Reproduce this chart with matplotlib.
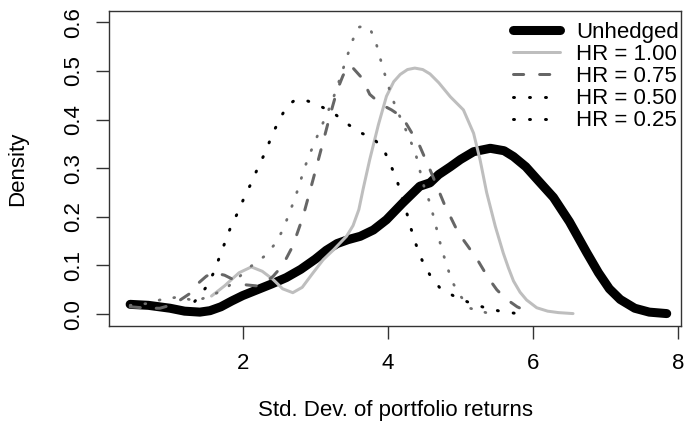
import matplotlib
matplotlib.use("Agg")
import matplotlib.pyplot as plt
from matplotlib.lines import Line2D

plt.rcParams["font.family"] = ["Liberation Sans", "DejaVu Sans"]

# density curves (x = std. dev., y = density)
unhedged_x = [0.45, 0.7, 1.0, 1.2, 1.41, 1.55, 1.7, 1.85, 2.0, 2.2, 2.4, 2.6, 2.8, 3.0, 3.15,
              3.3, 3.45, 3.62, 3.8, 3.98, 4.2, 4.44, 4.58, 4.7, 4.86, 5.0, 5.18, 5.41, 5.6, 5.73,
              5.9, 6.05, 6.28, 6.5, 6.65, 6.74, 6.9, 7.05, 7.2, 7.4, 7.6, 7.84]
unhedged_y = [0.020, 0.018, 0.012, 0.006, 0.004, 0.007, 0.015, 0.027, 0.038, 0.050, 0.062,
              0.075, 0.092, 0.113, 0.131, 0.145, 0.153, 0.160, 0.173, 0.194, 0.228, 0.263, 0.270,
              0.287, 0.303, 0.318, 0.334, 0.341, 0.336, 0.324, 0.303, 0.278, 0.240, 0.190, 0.150,
              0.126, 0.085, 0.052, 0.030, 0.012, 0.004, 0.001]

hr100_x = [1.57, 1.75, 1.95, 2.12, 2.27, 2.42, 2.55, 2.69, 2.82, 2.97, 3.11, 3.25, 3.43, 3.52,
           3.6, 3.66, 3.75, 3.87, 3.98, 4.08, 4.17, 4.27, 4.37, 4.48, 4.58, 4.7, 4.86, 5.04,
           5.18, 5.27, 5.36, 5.48, 5.59, 5.66, 5.73, 5.82, 5.91, 6.05, 6.2, 6.35, 6.55]
hr100_y = [0.037, 0.058, 0.085, 0.097, 0.088, 0.071, 0.052, 0.044, 0.055, 0.085, 0.112, 0.132,
           0.160, 0.182, 0.215, 0.258, 0.318, 0.390, 0.448, 0.478, 0.493, 0.503, 0.506, 0.503,
           0.494, 0.476, 0.447, 0.420, 0.372, 0.317, 0.250, 0.180, 0.125, 0.095, 0.068, 0.045,
           0.029, 0.013, 0.006, 0.003, 0.001]

hr075_x = [0.45, 0.7, 0.86, 1.0, 1.1, 1.2, 1.3, 1.4, 1.5, 1.6, 1.75, 1.87, 2.05, 2.19, 2.3, 2.42,
           2.55, 2.69, 2.83, 2.97, 3.1, 3.2, 3.3, 3.38, 3.45, 3.52, 3.64, 3.75, 3.91, 4.05, 4.2,
           4.3, 4.44, 4.6, 4.78, 4.97, 5.1, 5.24, 5.38, 5.5, 5.62, 5.78, 5.91]
hr075_y = [0.015, 0.012, 0.012, 0.018, 0.025, 0.035, 0.045, 0.065, 0.078, 0.085, 0.080, 0.071,
           0.060, 0.058, 0.063, 0.078, 0.100, 0.140, 0.200, 0.277, 0.350, 0.407, 0.460, 0.490,
           0.510, 0.506, 0.486, 0.452, 0.431, 0.420, 0.405, 0.380, 0.345, 0.290, 0.225, 0.167,
           0.140, 0.110, 0.075, 0.050, 0.032, 0.015, 0.006]

hr050_x = [1.34, 1.42, 1.5, 1.6, 1.68, 1.76, 1.84, 1.94, 2.03, 2.13, 2.22, 2.32, 2.4, 2.5, 2.61,
           2.7, 2.8, 2.9, 3.02, 3.23, 3.41, 3.59, 3.8, 3.95, 4.04, 4.13, 4.19, 4.26, 4.32, 4.39,
           4.47, 4.58, 4.72, 4.91, 5.13, 5.34, 5.57, 5.79]
hr050_y = [0.026, 0.040, 0.056, 0.085, 0.117, 0.149, 0.181, 0.211, 0.243, 0.273, 0.305, 0.335,
           0.367, 0.398, 0.428, 0.438, 0.442, 0.438, 0.431, 0.416, 0.395, 0.375, 0.362, 0.336,
           0.306, 0.273, 0.241, 0.208, 0.175, 0.142, 0.111, 0.080, 0.053, 0.037, 0.023, 0.013,
           0.005, 0.001]

hr025_x = [0.45, 0.7, 0.88, 1.11, 1.36, 1.6, 1.78, 1.94, 2.12, 2.3, 2.45, 2.56, 2.64, 2.72, 2.79,
           2.86, 2.94, 3.03, 3.12, 3.21, 3.29, 3.36, 3.43, 3.5, 3.59, 3.67, 3.75, 3.84, 3.9, 3.96,
           4.03, 4.11, 4.2, 4.29, 4.38, 4.49, 4.57, 4.63, 4.68, 4.74, 4.81, 4.88, 4.99, 5.13, 5.35]
hr025_y = [0.018, 0.022, 0.030, 0.035, 0.027, 0.040, 0.054, 0.075, 0.099, 0.119, 0.145, 0.175,
           0.207, 0.238, 0.271, 0.304, 0.335, 0.367, 0.398, 0.429, 0.462, 0.494, 0.526, 0.558,
           0.590, 0.592, 0.589, 0.556, 0.523, 0.492, 0.458, 0.424, 0.395, 0.364, 0.331, 0.266,
           0.232, 0.200, 0.170, 0.134, 0.101, 0.068, 0.039, 0.012, 0.003]

legend_labels = ["Unhedged", "HR = 1.00", "HR = 0.75", "HR = 0.50", "HR = 0.25"]
x_ticks = [2, 4, 6, 8]
y_ticks = [0.0, 0.1, 0.2, 0.3, 0.4, 0.5, 0.6]

fig = plt.figure(figsize=(6.87, 4.30), dpi=100)
ax = fig.add_axes([0.1591, 0.2419, 0.8322, 0.7326])

dot = (0.33, 5.0)
dash = (3.4, 5.3)
ax.plot(unhedged_x, unhedged_y, color="black", lw=6.5, solid_capstyle="round", solid_joinstyle="round")
ax.plot(hr100_x, hr100_y, color="#bebebe", lw=2.16, solid_capstyle="round", solid_joinstyle="round")
ax.plot(hr075_x, hr075_y, color="#666666", lw=2.16, dashes=dash, dash_capstyle="round")
ax.plot(hr025_x, hr025_y, color="#6e6e6e", lw=2.0, dashes=dot, dash_capstyle="round")
ax.plot(hr050_x, hr050_y, color="black", lw=2.16, dashes=dot, dash_capstyle="round")

handles = [
    Line2D([], [], color="black", lw=6.5, solid_capstyle="round"),
    Line2D([], [], color="#bebebe", lw=2.16, solid_capstyle="round"),
    Line2D([], [], color="#666666", lw=2.16, dashes=dash, dash_capstyle="round"),
    Line2D([], [], color="black", lw=2.16, dashes=dot, dash_capstyle="round"),
    Line2D([], [], color="black", lw=2.16, dashes=dot, dash_capstyle="round"),
]
ax.legend(handles, legend_labels, loc="upper left", bbox_to_anchor=(0.706, 0.965),
          frameon=False, fontsize=16, handlelength=2.1, handletextpad=0.75,
          labelspacing=0.05, borderpad=0, borderaxespad=0)

ax.set_xlim(0.163, 8.037)
ax.set_ylim(-0.0245, 0.6235)
ax.set_xticks(x_ticks)
ax.set_xticklabels([str(v) for v in x_ticks])
ax.set_yticks(y_ticks)
ax.set_yticklabels(["%.1f" % v for v in y_ticks], rotation=90, va="center")
ax.tick_params(length=9.4, width=1.0, labelsize=16, direction="out", color="#333333")
ax.tick_params(axis="x", pad=10)
ax.tick_params(axis="y", pad=9)
for s in ax.spines.values():
    s.set_linewidth(1.0)
    s.set_color("#333333")

ax.set_xlabel("Std. Dev. of portfolio returns", fontsize=16)
ax.xaxis.set_label_coords(0.5, -0.267)
ax.xaxis.label.set_va("center")
ax.set_ylabel("Density", fontsize=16)
ax.yaxis.set_label_coords(-0.16, 0.5)
ax.yaxis.label.set_va("center")

fig.savefig("out.png", dpi=100)
